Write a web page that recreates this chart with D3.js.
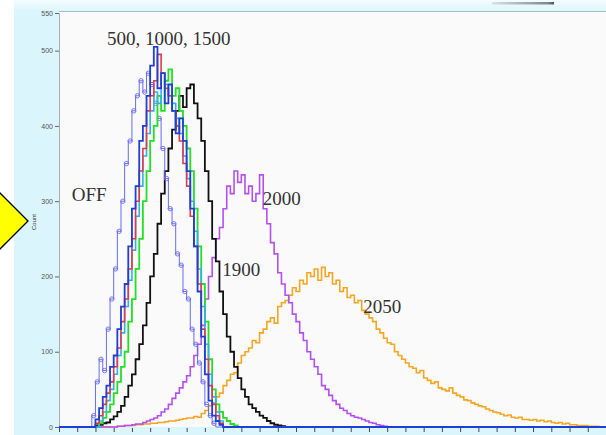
<!DOCTYPE html>
<html><head><meta charset="utf-8">
<script src="https://cdn.jsdelivr.net/npm/d3@7"></script>
<style>html,body{margin:0;padding:0;background:#fff;}svg{display:block;}</style>
</head><body><div id="chart"></div>
<script>
// Histogram bins: 150 bins of 2 channels each (channel 0..300). Each series: start bin + counts.
const binCount = 150;
const binWidth = 2;
const yTickValues = [0, 100, 200, 300, 400, 500, 550];
const xTickValues = d3.range(0, 301, 10);

const offStart = 8;
const offValues = [0,15,60,90,75,130,170,210,260,300,350,380,420,440,460,445,470,455,430,410,370,330,290,270,230,215,180,170,130,110,85,60,30,15,5,0];

const blueStart = 9;
const blueValues = [0,10,25,40,55,80,95,130,160,190,240,290,320,380,400,440,480,505,450,470,430,455,420,390,410,380,340,290,240,180,120,70,35,15,8,3,0];

const redStart = 9;
const redValues = [0,5,15,30,45,60,80,105,140,170,210,250,300,340,370,420,440,460,495,470,450,440,420,400,380,350,320,280,240,190,130,90,55,30,15,5,0];

const cyanStart = 10;
const cyanValues = [0,8,20,35,50,70,95,125,160,195,235,280,320,360,390,420,445,430,470,455,440,430,410,390,360,330,300,260,210,160,110,70,40,20,8,0];

const greenStart = 10;
const greenValues = [0,5,12,20,30,45,60,80,100,140,170,210,250,300,340,380,400,440,420,460,475,440,450,420,400,370,340,290,240,190,140,90,50,30,20,12,8,4,2,0];

const blackStart = 9;
const blackValues = [0,2,3,5,6,10,14,20,28,40,55,70,90,110,135,165,200,230,270,310,340,370,395,420,440,425,450,455,430,410,380,340,300,250,220,180,150,120,100,80,65,50,40,30,25,20,15,12,8,5,3,2,1,0];

const violetStart = 15;
const violetValues = [0,1,1,2,2,3,4,4,6,8,10,12,15,20,24,30,38,45,52,60,68,80,95,110,135,170,200,225,250,265,290,320,310,340,325,335,310,320,300,310,335,290,270,245,230,205,190,175,165,150,140,125,115,100,90,80,70,55,50,42,35,30,25,22,18,15,13,12,10,8,6,5,3,2,1,0];

const orangeStart = 15;
const orangeValues = [0,1,1,2,2,2,3,3,4,4,5,5,6,6,7,8,8,9,10,11,12,12,14,13,18,22,28,32,40,45,55,62,70,72,85,95,100,105,115,112,125,130,140,145,138,160,165,168,175,185,180,195,190,205,200,210,195,212,200,205,190,195,180,185,172,175,165,168,155,150,145,140,130,125,118,112,110,100,95,90,85,80,78,72,75,65,62,58,60,52,50,48,52,45,42,40,36,35,32,30,28,27,24,22,20,19,17,15,16,13,12,13,10,10,9,10,8,9,7,8,6,5,6,4,5,3,3,2,2,2,1,1,1,0,0];

const seriesNames = ["2050", "2000", "1900", "OFF", "green", "cyan", "red", "blue"];
const seriesColors = ["#f5a623", "#b450f0", "#111111", "#6b6bf0", "#22e022", "#2eb2e8", "#e23a48", "#1e3fd8"];

function expand(start, vals) {
  const out = new Array(binCount).fill(0);
  vals.forEach((v, i) => { if (start + i < binCount) out[start + i] = v; });
  return out;
}

const series = [
  {name: "2050", counts: expand(orangeStart, orangeValues), color: seriesColors[0], w: 1.6},
  {name: "2000", counts: expand(violetStart, violetValues), color: seriesColors[1], w: 1.6},
  {name: "1900", counts: expand(blackStart, blackValues), color: seriesColors[2], w: 1.8},
  {name: "OFF", counts: expand(offStart, offValues), color: seriesColors[3], w: 1, markers: true},
  {name: "green", counts: expand(greenStart, greenValues), color: seriesColors[4], w: 1.8},
  {name: "cyan", counts: expand(cyanStart, cyanValues), color: seriesColors[5], w: 1.6},
  {name: "red", counts: expand(redStart, redValues), color: seriesColors[6], w: 1.6},
  {name: "blue", counts: expand(blueStart, blueValues), color: seriesColors[7], w: 1.8}
];

const labels = [
  {text: "500, 1000, 1500", ch: 26.3, v: 508},
  {text: "OFF", ch: 7, v: 300},
  {text: "2000", ch: 111.7, v: 295},
  {text: "1900", ch: 89.6, v: 200},
  {text: "2050", ch: 166.8, v: 152}
];

const W = 606, H = 435;
const svg = d3.select("#chart").append("svg").attr("width", W).attr("height", H);

const defs = svg.append("defs");
const g1 = defs.append("linearGradient").attr("id", "topfade").attr("x1", 0).attr("y1", 0).attr("x2", 0).attr("y2", 1);
g1.append("stop").attr("offset", "0%").attr("stop-color", "#f4fdff");
g1.append("stop").attr("offset", "100%").attr("stop-color", "#d8f5fb");

const x = d3.scaleLinear().domain([0, binCount * binWidth]).range([59, 606]);
const y = d3.scaleLinear().domain([0, 550]).range([427, 13]);

// backgrounds
svg.append("rect").attr("x", 14).attr("y", 0).attr("width", W - 14).attr("height", H).attr("fill", "#daf5fb");
svg.append("rect").attr("x", 14).attr("y", 0).attr("width", W - 14).attr("height", 12).attr("fill", "url(#topfade)");
svg.append("rect").attr("x", 59).attr("y", 12).attr("width", W - 59).attr("height", 415).attr("fill", "#fafafa");
svg.append("line").attr("x1", 59).attr("x2", W).attr("y1", 11.5).attr("y2", 11.5).attr("stroke", "#a9bcc4").attr("stroke-width", 1);
// top scrollbar-like element
const g2 = defs.append("linearGradient").attr("id", "bar").attr("x1", 0).attr("x2", 1);
g2.append("stop").attr("offset", "0%").attr("stop-color", "#d6e2e6");
g2.append("stop").attr("offset", "90%").attr("stop-color", "#7c8a8e");
g2.append("stop").attr("offset", "100%").attr("stop-color", "#4a5356");
svg.append("rect").attr("x", 492).attr("y", 2).attr("width", 62).attr("height", 2.5).attr("fill", "url(#bar)");

// axes
const yAxis = svg.append("g").attr("transform", "translate(59,0)")
  .call(d3.axisLeft(y).tickValues(yTickValues).tickSize(4).tickPadding(2));
yAxis.select(".domain").attr("stroke", "#9fb0b8");
yAxis.selectAll(".tick line").attr("stroke", "#666");
yAxis.selectAll(".tick text").attr("font-family", "Liberation Sans, Arial, sans-serif").attr("font-size", 7).attr("fill", "#555");

const xAxis = svg.append("g").attr("transform", "translate(0,428)")
  .call(d3.axisBottom(x).tickValues(xTickValues).tickSize(4).tickFormat(""));
xAxis.select(".domain").remove();
xAxis.selectAll(".tick line").attr("stroke", "#445");

svg.append("text").attr("transform", "translate(36,222) rotate(-90)")
  .attr("text-anchor", "middle").attr("font-family", "Liberation Sans, Arial, sans-serif")
  .attr("font-size", 6).attr("fill", "#333").text("Count");

// series
const line = d3.line().curve(d3.curveStepAfter).x(d => x(d[0])).y(d => y(d[1]));
const plot = svg.append("g");
series.forEach(s => {
  const pts = s.counts.map((c, i) => [i * binWidth, c]);
  pts.push([binCount * binWidth, s.counts[binCount - 1]]);
  plot.append("path").attr("d", line(pts)).attr("fill", "none")
    .attr("stroke", s.color).attr("stroke-width", s.w).attr("stroke-linejoin", "miter");
  if (s.markers) {
    plot.append("g").selectAll("circle")
      .data(s.counts.map((c, i) => [i * binWidth + binWidth / 2, c]).filter(d => d[1] > 0))
      .join("circle")
      .attr("cx", d => x(d[0])).attr("cy", d => y(d[1])).attr("r", 2.2)
      .attr("fill", "none").attr("stroke", s.color).attr("stroke-width", 0.9);
  }
});

// labels
svg.append("g").selectAll("text").data(labels).join("text")
  .attr("x", d => x(d.ch)).attr("y", d => y(d.v))
  .attr("font-family", "Liberation Serif, Times New Roman, serif")
  .attr("font-size", 19).attr("fill", "#333").text(d => d.text);

// yellow arrow
svg.append("polygon").attr("points", "-12,181 28,221 -12,261")
  .attr("fill", "#ffff00").attr("stroke", "#000").attr("stroke-width", 1.3);
</script>
</body></html>
